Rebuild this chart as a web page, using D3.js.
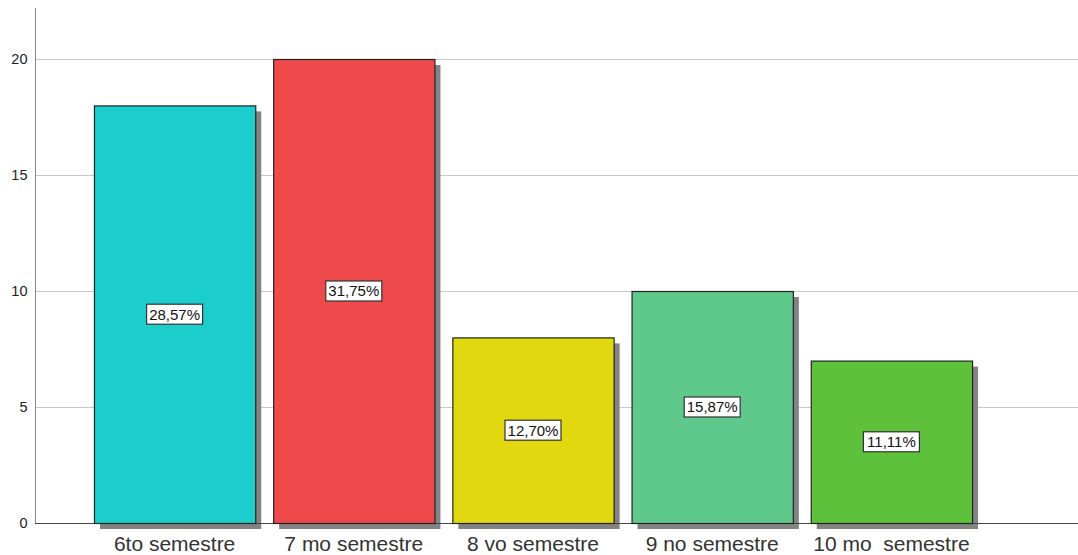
<!DOCTYPE html>
<html><head><meta charset="utf-8">
<script src="https://cdn.jsdelivr.net/npm/d3@7"></script>
<style>body{margin:0;background:#fff}svg{display:block}</style>
</head><body>
<svg id="c" width="1078" height="555"></svg>
<script>
const categories = ["6to semestre", "7 mo semestre", "8 vo semestre", "9 no semestre", "10 mo  semestre"];
const counts = [18, 20, 8, 10, 7];
const percentLabels = ["28,57%", "31,75%", "12,70%", "15,87%", "11,11%"];
const colors = ["#1ccdcd", "#ee4a4b", "#e2d80f", "#5ec98a", "#5dc13b"];
const yTicks = [0, 5, 10, 15, 20];

const svg = d3.select("#c");
const x = d3.scaleBand().domain(categories).range([85, 981]).paddingInner(0.1).paddingOuter(0.05);
const y = d3.scaleLinear().domain([0, 20]).range([523, 59]);

// gridlines
svg.append("g").selectAll("line").data(yTicks.filter(d => d > 0)).join("line")
  .attr("x1", 35).attr("x2", 1078).attr("y1", d => y(d) + 0.5).attr("y2", d => y(d) + 0.5)
  .attr("stroke", "#c8c8c8").attr("stroke-width", 1);

// y axis
const yAxis = svg.append("g").attr("transform", "translate(35.5,0)")
  .call(d3.axisLeft(y).tickValues(yTicks).tickSize(0).tickPadding(8));
yAxis.select(".domain").remove();
yAxis.selectAll("text").attr("font-family", "Arial, 'Liberation Sans', sans-serif")
  .attr("font-size", 14.5).attr("fill", "#222");
svg.append("line").attr("x1", 35.5).attr("x2", 35.5).attr("y1", 8).attr("y2", 523)
  .attr("stroke", "#888");

// shadows
svg.append("g").selectAll("rect").data(categories).join("rect")
  .attr("x", d => x(d) + 6).attr("y", (d, i) => y(counts[i]) + 6)
  .attr("width", x.bandwidth()).attr("height", (d, i) => y(0) - y(counts[i]))
  .attr("fill", "#838383");

// baseline
svg.append("line").attr("x1", 35).attr("x2", 1078).attr("y1", 523.5).attr("y2", 523.5)
  .attr("stroke", "#444").attr("stroke-width", 1);

// bars
svg.append("g").selectAll("rect").data(categories).join("rect")
  .attr("x", d => x(d) + 0.5).attr("y", (d, i) => y(counts[i]) + 0.5)
  .attr("width", x.bandwidth()).attr("height", (d, i) => y(0) - y(counts[i]))
  .attr("fill", (d, i) => colors[i]).attr("stroke", "#222").attr("stroke-width", 1.2);

// labels
const lg = svg.append("g").selectAll("g").data(categories).join("g")
  .attr("transform", (d, i) => `translate(${x(d) + x.bandwidth() / 2},${(y(counts[i]) + y(0)) / 2})`);
lg.append("rect").attr("x", -28).attr("y", -10).attr("width", 56).attr("height", 20)
  .attr("fill", "#fff").attr("stroke", "#333").attr("stroke-width", 1.2);
lg.append("text").text((d, i) => percentLabels[i]).attr("text-anchor", "middle").attr("dy", "0.36em")
  .attr("font-family", "Arial, 'Liberation Sans', sans-serif").attr("font-size", 15).attr("fill", "#111");

// x axis labels
const xAxis = svg.append("g").attr("transform", "translate(0,523)")
  .call(d3.axisBottom(x).tickSize(0).tickPadding(12));
xAxis.select(".domain").remove();
xAxis.selectAll("text").attr("font-family", "Arial, 'Liberation Sans', sans-serif")
  .attr("font-size", 21).attr("fill", "#333").attr("dy", null).attr("y", 28)
  .attr("xml:space", "preserve").style("white-space", "pre");
</script>
</body></html>
